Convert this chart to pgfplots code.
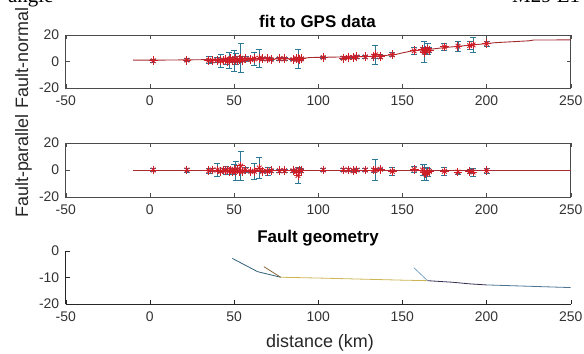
\documentclass[border=0pt]{standalone}
\usepackage{pgfplots}
\pgfplotsset{compat=1.18}
\usepackage{pgfplotstable}
\usepackage{fontspec}
\setmainfont{Liberation Sans}
\newfontfamily\serifone{Liberation Serif}
\definecolor{ebcol}{RGB}{45,120,150}
\definecolor{mkcol}{RGB}{205,30,40}
\definecolor{lncol}{RGB}{165,45,50}
\definecolor{axcol}{RGB}{75,75,75}
\definecolor{gA}{RGB}{45,95,120}
\definecolor{gB}{RGB}{135,105,60}
\definecolor{gC}{RGB}{205,180,85}
\definecolor{gD}{RGB}{125,165,195}
\definecolor{gE}{RGB}{55,45,85}
\definecolor{gF}{RGB}{75,115,145}

% x  yn  en  yp  ep
\pgfplotstableread{
x yn en yp ep
2 0.5 1 0 1
22 1 1 0 1.5
35 1 2.5 -0.5 2
37 0.5 1 0 1
40 1 2 0 5
42 0.5 5 -1 1
44 1 1 0 1
45 1.5 1 -0.5 3
46 0 2 0 1
47 1 6 -1 2
48 2 1 0 1
49 1 2 -1 2
50 0.5 8 0.5 4
51 2 4 -1 7
52 1 1 0 1
53 1.5 2 -1 1
54 2.5 11 3 11
55 1 1 -1 1
57 2 2 0 2
60 1.5 1 -1 1
62 2 5 -1 6
65 2.5 7 1.5 7.5
67 2 1 -1 1
70 2 1 -1 3
72 1.5 1 -0.5 1
77 2 1 -0.5 1
80 2 1 -0.5 1
85 1.5 1 -0.5 1
87 2 1 -1 1
88 2 7 -4 6
89 1.5 1 0 1
90 2 1 -0.5 1
103 3 1 0 1
115 2.5 1 0 1
118 3 1 0 1
121 3 1 -0.5 1
123 3.5 1 0 1
128 3.5 1 0 1
133 4 1.5 0 1.5
134 5 7.5 0 7.5
137 3.5 1.5 0.5 1
144 5 1.5 -1 3
157 8 3 0.5 2
162 9 2 0 4
163 7 8 -2 6
164 8 3 -3 5
165 9.5 4 -2 3
166 8.5 2 -1 1
175 11 3 -1 3
183 11.5 4 -1.5 1.5
190 12 3 -1 1.5
192 12.5 6 -1.5 3
200 13.5 2 -0.5 2
}\gps

\pgfplotsset{
  gpsaxis/.style={
    scale only axis, width=505bp, height=53bp,
    xmin=-50, xmax=250, ymin=-20, ymax=20,
    xtick={-50,0,...,250}, ytick={-20,0,20},
    tick align=inside, major tick length=4bp,
    axis line style={axcol, line width=0.8bp}, every tick/.style={axcol},
    tick label style={font=\fontsize{14}{14}\selectfont, text=black!80},
    xticklabel style={yshift=-4bp}, yticklabel style={xshift=-3bp},
    /pgf/number format/assume math mode=true,
    clip=true,
  },
  ebstyle/.style={only marks, mark=x, mark size=3.3bp,
    mark options={draw=mkcol, line width=0.9bp},
    error bars/.cd, y dir=both, y explicit,
    error bar style={color=ebcol, line width=0.8bp},
    error mark options={color=ebcol, mark size=3bp, line width=0.8bp, rotate=90}},
  pstyle/.style={only marks, mark=+, mark size=4.4bp,
    mark options={draw=mkcol, line width=0.9bp}},
}

\begin{document}
\begin{tikzpicture}[x=1bp,y=1bp]
\useasboundingbox (0,0) rectangle (584,353);
\begin{scope}
\clip (0,0) rectangle (584,353);
\node[anchor=base west, inner sep=0, font=\serifone\fontsize{21}{21}\selectfont] at (8,351) {angle};
\node[anchor=base west, inner sep=0, font=\serifone\fontsize{21}{21}\selectfont] at (512,351) {M29 E1};
\end{scope}

% panel 1
\begin{axis}[gpsaxis, at={(65.7bp,265bp)}, anchor=south west]
\addplot[ebstyle] table[x=x, y=yn, y error=en] {\gps};
\addplot[pstyle] table[x=x, y=yn] {\gps};
\addplot[lncol, line width=0.9bp] coordinates {(-10,1) (0,1) (20,1.2) (40,1.5) (60,1.8) (88,2) (95,3) (130,3.8) (145,5) (150,6.5) (157,8.3) (165,9) (175,10.5) (200,13.5) (205,14.2) (225,15.6) (228,16.2) (250,16.3)};
\end{axis}

% panel 2
\begin{axis}[gpsaxis, at={(65.7bp,156bp)}, anchor=south west, height=54bp]
\addplot[ebstyle] table[x=x, y=yp, y error=ep] {\gps};
\addplot[pstyle] table[x=x, y=yp] {\gps};
\addplot[lncol, line width=0.9bp] coordinates {(-10,0) (250,0)};
\end{axis}

% panel 3
\begin{axis}[scale only axis, width=505bp, height=53bp,
    at={(65.7bp,49bp)}, anchor=south west,
    xmin=-50, xmax=250, ymin=-20, ymax=0,
    xtick={-50,0,...,250}, ytick={-20,-10,0},
    axis x line=bottom, axis y line=left,
    axis line style={-, black!85, line width=0.9bp},
    tick align=inside, major tick length=4bp, every tick/.style={black!85},
    tick label style={font=\fontsize{14}{14}\selectfont, text=black!80},
    xticklabel style={yshift=-4bp}, yticklabel style={xshift=-3bp},
    /pgf/number format/assume math mode=true, clip=false]
\addplot[gA, line width=0.8bp] coordinates {(49,-2.8) (64,-7.8) (77.7,-9.9)};
\addplot[gB, line width=0.8bp] coordinates {(67.7,-5.9) (77.7,-9.9)};
\addplot[gC, line width=0.8bp] coordinates {(77.7,-9.9) (100,-10.2) (125,-10.6) (150,-11) (165,-11.2)};
\addplot[gD, line width=0.8bp] coordinates {(156.8,-6.3) (165,-11.2)};
\addplot[gE, line width=0.8bp] coordinates {(165,-11.2) (180,-11.8) (190,-12.4) (200,-12.8)};
\addplot[gF, line width=0.8bp] coordinates {(200,-12.8) (215,-13.1) (235,-13.5) (250,-13.8)};
\end{axis}

% titles and labels
\node[anchor=base, inner sep=0, font=\bfseries\fontsize{17}{17}\selectfont] at (317.5,326) {fit to GPS data};
\node[anchor=base, inner sep=0, font=\bfseries\fontsize{17}{17}\selectfont] at (318,111) {Fault geometry};
\node[anchor=base, inner sep=0, font=\fontsize{18}{18}\selectfont, text=black!85] at (320,6) {distance (km)};
\node[anchor=base, rotate=90, inner sep=0, font=\fontsize{18}{18}\selectfont, text=black!85] at (28,295) {Fault-normal};
\node[anchor=base, rotate=90, inner sep=0, font=\fontsize{18}{18}\selectfont, text=black!85] at (28,187) {Fault-parallel};
\end{tikzpicture}
\end{document}
